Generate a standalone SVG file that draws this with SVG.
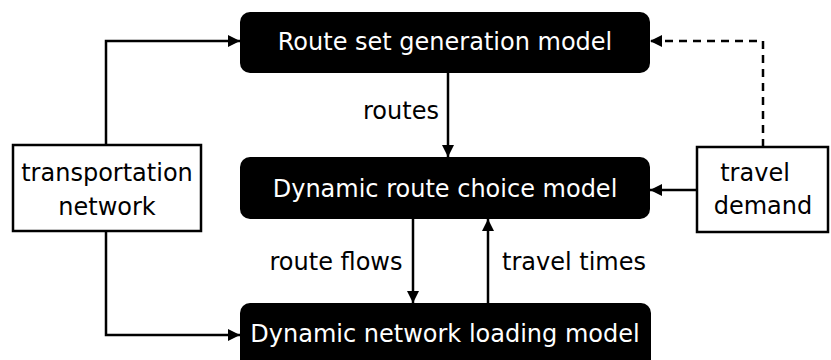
<svg xmlns="http://www.w3.org/2000/svg" width="831" height="360" viewBox="0 0 831 360">
<style>
.m{fill:#000}
.mt{fill:#fff;font-family:"DejaVu Sans",sans-serif;font-size:24px;text-anchor:middle}
.w{fill:#fff;stroke:#000;stroke-width:2.5}
.t{fill:#000;font-family:"DejaVu Sans",sans-serif;font-size:24px;text-anchor:middle}
.c{fill:none;stroke:#000;stroke-width:2.5}
</style>
<defs>
<marker id="a" viewBox="0 0 12 12" refX="12" refY="6" markerWidth="12" markerHeight="12" markerUnits="userSpaceOnUse" orient="auto">
<path d="M0,0 L12,6 L0,12 Z" fill="#000"/>
</marker>
</defs>
<rect width="831" height="360" fill="#fff"/>
<g id="connectors">
<path class="c" d="M106,145 V41 H240" marker-end="url(#a)"/>
<path class="c" d="M106,231 V335 H240" marker-end="url(#a)"/>
<path class="c" d="M448,73 V157" marker-end="url(#a)"/>
<path class="c" d="M413,219 V303" marker-end="url(#a)"/>
<path class="c" d="M488,303 V219" marker-end="url(#a)"/>
<path class="c" d="M697,190 H650" marker-end="url(#a)"/>
<path class="c" d="M763,147 V41 H650" stroke-dasharray="8,6" marker-end="url(#a)"/>
<text class="t" x="401" y="119">routes</text>
<text class="t" x="336" y="270">route flows</text>
<text class="t" x="574" y="270">travel times</text>
</g>
<g id="route-set">
<rect class="m" x="240" y="12" width="410" height="61" rx="10"/>
<text class="mt" x="445" y="50">Route set generation model</text>
</g>
<g id="route-choice">
<rect class="m" x="240" y="157" width="410" height="62" rx="10"/>
<text class="mt" x="445" y="197">Dynamic route choice model</text>
</g>
<g id="network-loading">
<rect class="m" x="240" y="303" width="411" height="70" rx="10"/>
<text class="mt" x="445" y="342">Dynamic network loading model</text>
</g>
<g id="transportation-network">
<rect class="w" x="13" y="145" width="188" height="86"/>
<text class="t" x="107" y="181">transportation</text>
<text class="t" x="107" y="215">network</text>
</g>
<g id="travel-demand">
<rect class="w" x="697" y="147" width="131" height="85"/>
<text class="t" x="755" y="181">travel</text>
<text class="t" x="763" y="214">demand</text>
</g>
</svg>
